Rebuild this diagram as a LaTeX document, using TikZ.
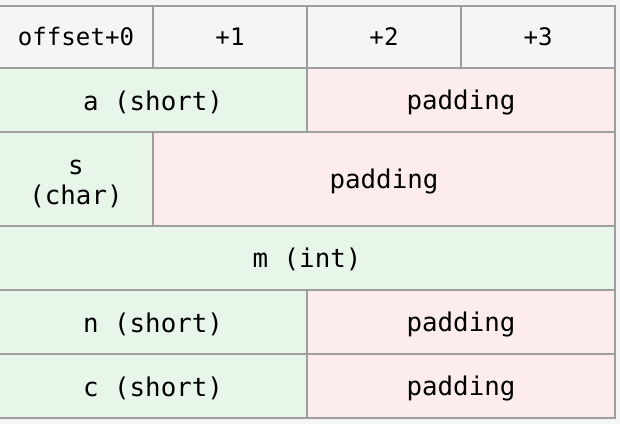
\documentclass[tikz,border=0pt]{standalone}
\usepackage{fontspec}
\setmonofont{DejaVu Sans Mono}
\definecolor{bg}{HTML}{F5F5F5}
\definecolor{hdr}{HTML}{F5F5F5}
\definecolor{fieldc}{HTML}{E8F5E9}
\definecolor{padc}{HTML}{FDECEC}
\definecolor{linec}{HTML}{9E9E9E}
\newcommand{\lowtxt}[2]{\raisebox{-#1}[\height][\depth]{#2}}
\begin{document}
\begin{tikzpicture}[x=1pt,y=1pt,
  cell/.style={draw=linec, line width=2pt, rectangle, inner sep=0pt, font=\ttfamily\fontsize{25.8}{29.5}\selectfont, text=black, align=center},
  hcell/.style={cell, fill=hdr, minimum width=154pt, minimum height=62pt, font=\ttfamily\fontsize{24.1}{28}\selectfont},
  fcell/.style={cell, fill=fieldc},
  pcell/.style={cell, fill=padc}]
\fill[bg] (0,0) rectangle (620,424);
\useasboundingbox (0,0) rectangle (620,424);
% header
\node[hcell] (h0) at (76,387) {offset+0};
\node[hcell] (h1) at (230,387) {+1};
\node[hcell] (h2) at (384,387) {+2};
\node[hcell] (h3) at (538,387) {+3};
% a
\node[fcell, minimum width=308pt, minimum height=64pt] (a) at (153,324) {\lowtxt{2pt}{a (short)}};
\node[pcell, minimum width=308pt, minimum height=64pt] (pa) at (461,324) {\lowtxt{2pt}{padding}};
% s
\node[fcell, minimum width=154pt, minimum height=94pt] (s) at (76,245) {\lowtxt{4.5pt}{\begin{tabular}{@{}c@{}}s\\(char)\end{tabular}}};
\node[pcell, minimum width=462pt, minimum height=94pt] (ps) at (384,245) {\lowtxt{2pt}{padding}};
% m
\node[fcell, minimum width=616pt, minimum height=64pt] (m) at (307,166) {\lowtxt{1.5pt}{m (int)}};
% n
\node[fcell, minimum width=308pt, minimum height=64pt] (n) at (153,102) {\lowtxt{2pt}{n (short)}};
\node[pcell, minimum width=308pt, minimum height=64pt] (pn) at (461,102) {\lowtxt{2pt}{padding}};
% c
\node[fcell, minimum width=308pt, minimum height=64pt] (c) at (153,38) {\lowtxt{2pt}{c (short)}};
\node[pcell, minimum width=308pt, minimum height=64pt] (pc) at (461,38) {\lowtxt{2pt}{padding}};
\end{tikzpicture}
\end{document}
